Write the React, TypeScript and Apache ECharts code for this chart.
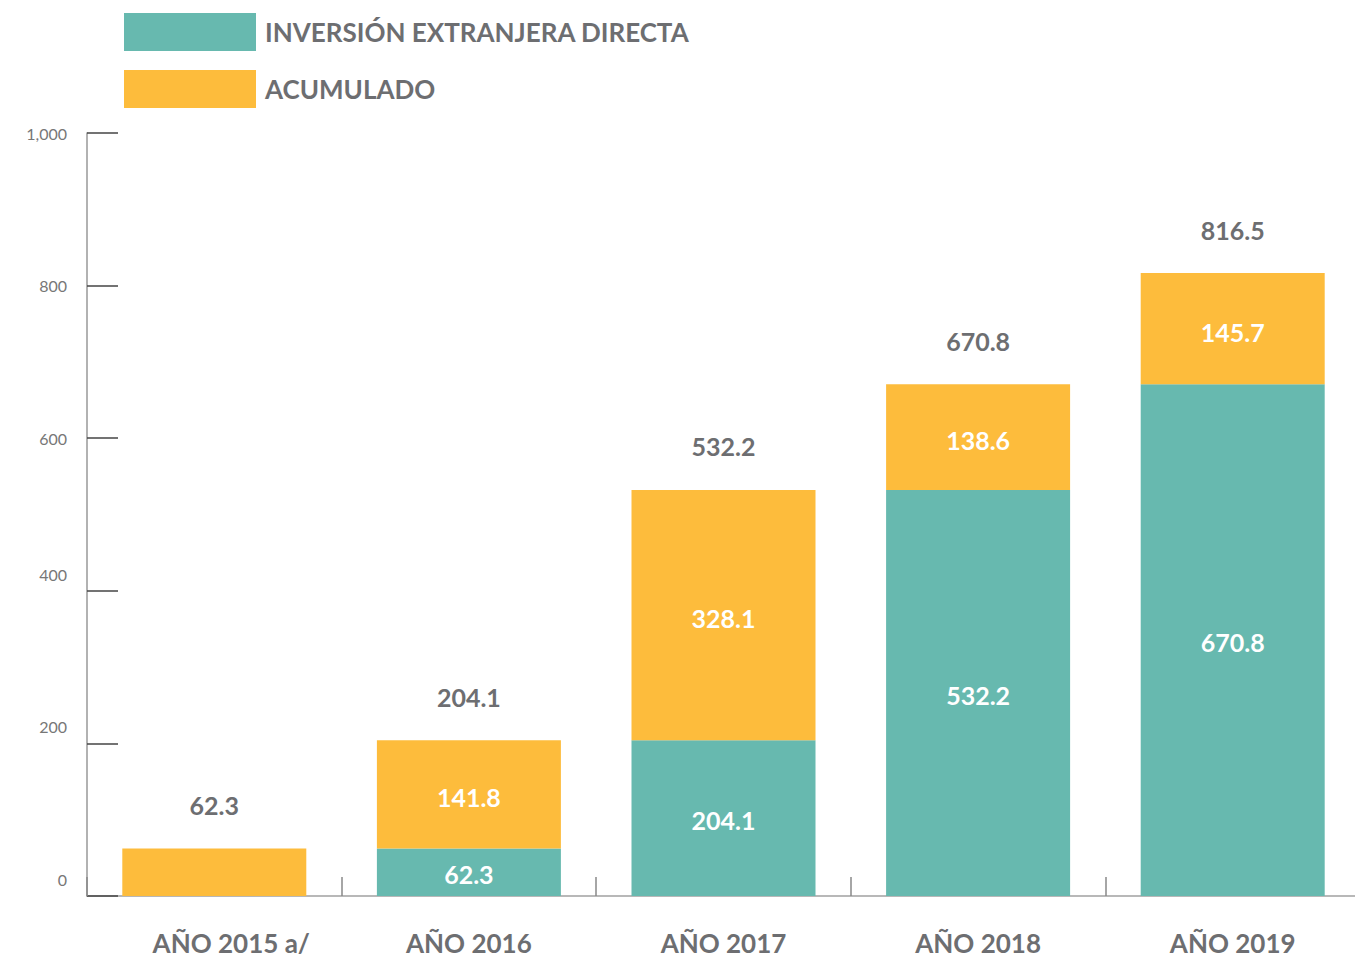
import React, { useEffect, useRef } from "react";
import * as echarts from "echarts";

const categories = ["AÑO 2015 a/", "AÑO 2016", "AÑO 2017", "AÑO 2018", "AÑO 2019"];
const iedValues: (number | null)[] = [null, 62.3, 204.1, 532.2, 670.8];
const acumValues = [62.3, 141.8, 328.1, 138.6, 145.7];
const totals = [62.3, 204.1, 532.2, 670.8, 816.5];
const yTicks = [0, 200, 400, 600, 800, 1000];

const TEAL = "#67b9af";
const YELLOW = "#fdbc3c";
const GRAY = "#6d6e71";
const FONT = "Lato";

export default function App() {
  const ref = useRef<HTMLDivElement>(null);
  useEffect(() => {
    document.body.style.margin = "0";
    if (!ref.current) return;
    const chart = echarts.init(ref.current, undefined, { renderer: "svg" });
    const fmt = (v: number) => v.toLocaleString("en-US");
    chart.setOption({
      animation: false,
      backgroundColor: "#ffffff",
      textStyle: { fontFamily: FONT },
      legend: {
        orient: "vertical",
        left: 124,
        top: 13,
        padding: 0,
        icon: "rect",
        itemWidth: 132,
        itemHeight: 38,
        itemGap: 19,
        data: ["INVERSIÓN EXTRANJERA DIRECTA", "ACUMULADO"],
        textStyle: {
          fontFamily: FONT,
          fontSize: 26,
          fontWeight: "bold",
          color: GRAY,
          padding: [0, 0, 0, 4],
        },
      },
      grid: { left: 87, top: 133, height: 763, width: 1273, outerBoundsMode: "none", containLabel: false },
      xAxis: {
        type: "category",
        data: categories,
        axisLine: { lineStyle: { color: "#a0a0a0", width: 1.5 } },
        axisTick: { show: true, inside: true, interval: 0, length: 19, lineStyle: { color: "#888", width: 1.5 } },
        axisLabel: {
          interval: 0,
          margin: 34,
          fontFamily: FONT,
          fontSize: 26,
          fontWeight: "bold",
          color: GRAY,
          formatter: (v: string) => (v.indexOf(" a/") >= 0 ? `{sh|${v}}` : v),
          rich: {
            sh: {
              padding: [0, 0, 0, 34],
              fontFamily: FONT,
              fontSize: 26,
              fontWeight: "bold",
              color: GRAY,
            },
          },
        },
      },
      yAxis: {
        type: "value",
        min: 0,
        max: 1000,
        interval: 200,
        splitLine: { show: false },
        axisLine: { show: true, lineStyle: { color: "#999", width: 1.5 } },
        axisTick: { show: true, inside: true, length: 31, lineStyle: { color: "#444", width: 1.5 } },
        axisLabel: {
          margin: 20,
          color: "#777",
          fontFamily: FONT,
          fontSize: 16,
          formatter: (v: number) =>
            yTicks.indexOf(v) >= 0 && v <= 400 ? `{lo|${fmt(v)}}` : `{hi|${fmt(v)}}`,
          rich: {
            lo: { padding: [0, 0, 33, 0], fontSize: 16, color: "#777", fontFamily: FONT },
            hi: { fontSize: 16, color: "#777", fontFamily: FONT },
          },
        },
      },
      series: [
        {
          name: "INVERSIÓN EXTRANJERA DIRECTA",
          type: "bar",
          stack: "total",
          barWidth: 184,
          itemStyle: { color: TEAL },
          data: iedValues.map((v) => (v == null ? "-" : v)),
          label: {
            show: true,
            position: "inside",
            offset: [0, 2],
            color: "#fff",
            fontFamily: FONT,
            fontSize: 25,
            fontWeight: "bold",
            formatter: (p: any) => Number(p.value).toFixed(1),
          },
        },
        {
          name: "ACUMULADO",
          type: "bar",
          stack: "total",
          barWidth: 184,
          itemStyle: { color: YELLOW },
          data: acumValues.map((v, i) =>
            iedValues[i] == null ? { value: v, label: { show: false } } : v
          ),
          label: {
            show: true,
            position: "inside",
            offset: [0, 3],
            color: "#fff",
            fontFamily: FONT,
            fontSize: 25,
            fontWeight: "bold",
            formatter: (p: any) => Number(p.value).toFixed(1),
          },
        },
        {
          name: "total",
          type: "bar",
          stack: "total",
          barWidth: 184,
          silent: true,
          itemStyle: { color: "rgba(0,0,0,0)" },
          data: totals.map(() => 0),
          label: {
            show: true,
            position: "top",
            distance: 31,
            color: GRAY,
            fontFamily: FONT,
            fontSize: 25,
            fontWeight: "bold",
            formatter: (p: any) => totals[p.dataIndex].toFixed(1),
          },
        },
      ],
    });
    return () => chart.dispose();
  }, []);
  return <div ref={ref} style={{ width: 1355, height: 961 }} />;
}
